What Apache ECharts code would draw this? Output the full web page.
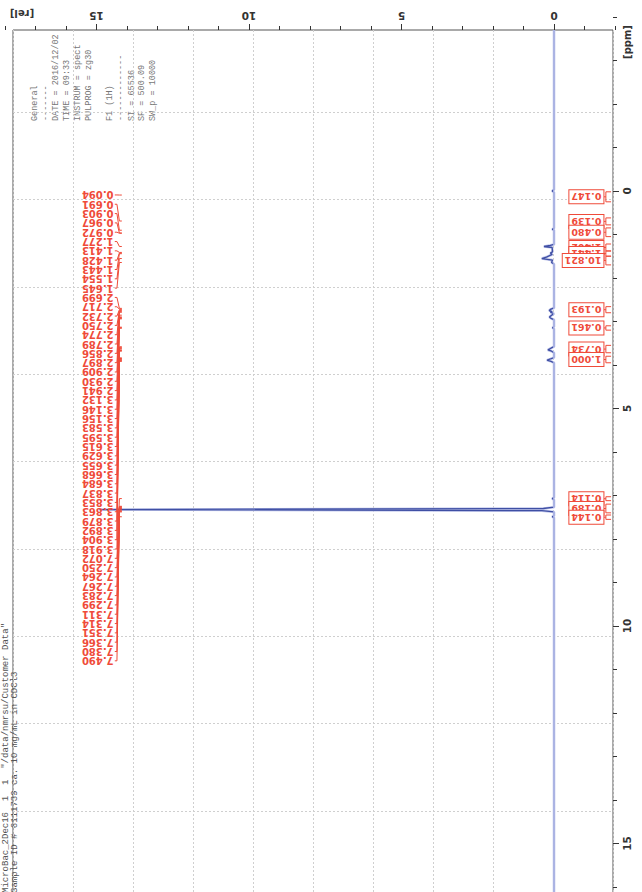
<!DOCTYPE html>
<html><head><meta charset="utf-8">
<script src="https://cdn.jsdelivr.net/npm/echarts@6/dist/echarts.min.js"></script>
<style>
html,body{margin:0;padding:0;width:642px;height:892px;overflow:hidden;background:#fff}
#c{position:absolute;left:-80px;top:-60px;width:800px;height:1140px}
</style>
</head><body><div id="c"></div>
<script>
// ---------- data ----------
const spectrumPpm = [-3.70, -0.03, 0.00, 0.03, 0.86, 0.88, 0.90, 1.23, 1.25, 1.277, 1.30, 1.40, 1.428, 1.46, 1.52, 1.554, 1.59, 1.645, 1.68, 2.69, 2.717, 2.75, 2.774, 2.789, 2.82, 2.856, 2.897, 2.93, 2.96, 3.12, 3.146, 3.17, 3.58, 3.615, 3.655, 3.684, 3.72, 3.83, 3.863, 3.892, 3.918, 3.95, 7.05, 7.072, 7.10, 7.27, 7.30, 7.325, 7.35, 7.38, 7.47, 7.49, 7.51, 17.45];
const spectrumRel = [0, 0, 0.06, 0, 0, 0.06, 0, 0, 0.12, 0.33, 0.06, 0.05, 0.12, 0.06, 0.25, 0.40, 0.05, 0.08, 0, 0, 0.10, 0.16, 0.06, 0.12, 0, 0.08, 0.15, 0.10, 0, 0, 0.05, 0, 0, 0.10, 0.20, 0.08, 0, 0, 0.12, 0.23, 0.10, 0, 0, 0.06, 0, 0, 0.35, 14.90, 0.40, 0, 0, 0.06, 0, 0];
const peakShifts = [0.094, 0.691, 0.903, 0.967, 0.972, 1.277, 1.413, 1.428, 1.443, 1.554, 1.645, 2.699, 2.717, 2.732, 2.750, 2.774, 2.789, 2.856, 2.897, 2.909, 2.930, 2.941, 3.132, 3.146, 3.156, 3.583, 3.595, 3.615, 3.629, 3.655, 3.668, 3.684, 3.837, 3.853, 3.863, 3.879, 3.892, 3.904, 3.918, 7.072, 7.250, 7.264, 7.267, 7.283, 7.299, 7.311, 7.314, 7.351, 7.366, 7.380, 7.490];
const integralStart = [0.02, 0.62, 0.85, 1.22, 1.38, 1.50, 2.66, 3.10, 3.55, 3.80, 7.03, 7.20, 7.45];
const integralEnd   = [0.25, 0.78, 1.05, 1.38, 1.50, 1.70, 2.80, 3.20, 3.72, 3.95, 7.12, 7.40, 7.55];
const integralValue = [0.147, 0.139, 0.480, 1.402, 1.441, 10.821, 0.193, 0.461, 0.734, 1.000, 0.114, 0.189, 0.144];
const relTickLabels = [0, 5, 10, 15];
const ppmTickLabels = [0, 5, 10, 15];
const paramLines = ['General', '-------', 'DATE = 2016/12/02', 'TIME = 09:33', 'INSTRUM = spect', 'PULPROG = zg30', '', 'F1 (1H)', '-------------', 'SI = 65536', 'SF = 500.09', 'SW_p = 10000'];
const footerLines = ['MicroBac_2Dec16  1  1  "/data/nmrsu/Customer Data"', 'Sample ID # 6111739 ca. 10 mg/mL in CDCl3'];

// ---------- layout ----------
const OX = 80, OY = 60, W = 800, H = 1140;
const A_LEFT = 13 + OX, A_TOP = 30 + OY, A_W = 600, A_H = 920;
const REL_MIN = -1.934, REL_MAX = 17.738;
const PPM_MIN = -3.70, PPM_MAX = 17.45;
const kx = A_W / (REL_MAX - REL_MIN);
const ky = A_H / (PPM_MAX - PPM_MIN);
const B_TOP = A_TOP + (-5 - PPM_MIN) * ky, B_H = 25 * ky;
const C_LEFT = A_LEFT + (REL_MAX - 20) * kx, C_W = 25 * kx;
const D_TOP = 112 + OY, D_H = 9 * 87.375;

const RED = '#ef4b3a';
const LABEL_REL = 14.44, LEAD = [14.40, 14.33, 14.25, 14.17];
const LABEL_START = 0.092, LABEL_STEP = 0.2142;
const INT_TEXT_REL = -1.62, INT_BR_IN = -1.70, INT_BR_OUT = -1.87;

const axisFont = {fontFamily: 'DejaVu Sans', fontWeight: 'bold', fontSize: 10.5, color: '#333'};
const hiddenAxis = (gi) => ({gridIndex: gi, type: 'value', min: 1, max: 2, show: false, axisLine: {onZero: false}});
const dashed = {show: true, lineStyle: {color: '#cfcfcf', type: [2, 2], width: 1}};

function renderPeak(params, api) {
  const ppm = api.value(0), i = api.value(1);
  const lp = LABEL_START + i * LABEL_STEP;
  const a = api.coord([LABEL_REL, lp]);
  const pts = [api.coord([LEAD[0], lp]), api.coord([LEAD[1], lp]), api.coord([LEAD[2], ppm]), api.coord([LEAD[3], ppm])];
  return {type: 'group', children: [
    {type: 'polyline', shape: {points: pts}, style: {stroke: RED, fill: 'none', lineWidth: 1}},
    {type: 'text', x: a[0], y: a[1], rotation: Math.PI,
     style: {text: ppm.toFixed(3), fill: RED, font: 'bold 10px "DejaVu Sans"', align: 'left', verticalAlign: 'middle'}}
  ]};
}
function renderIntegral(params, api) {
  const s = api.value(0), e = api.value(1), v = api.value(2);
  const c = (s + e) / 2;
  const a = api.coord([INT_TEXT_REL, c]);
  const k1 = api.coord([INT_BR_IN, c]);
  const s0 = api.coord([INT_BR_OUT, s]), s1 = api.coord([INT_BR_IN, s]);
  const e0 = api.coord([INT_BR_OUT, e]), e1 = api.coord([INT_BR_IN, e]);
  return {type: 'group', children: [
    {type: 'polyline', shape: {points: [s0, s1, e1, e0]}, style: {stroke: RED, fill: 'none', lineWidth: 1}},
    {type: 'line', shape: {x1: a[0], y1: a[1], x2: k1[0], y2: k1[1]}, style: {stroke: RED, lineWidth: 1}},
    {type: 'text', x: a[0], y: a[1], rotation: Math.PI,
     style: {text: v.toFixed(3), fill: RED, font: 'bold 9.5px "DejaVu Sans"', align: 'left', verticalAlign: 'middle',
             backgroundColor: '#fff', borderColor: RED, borderWidth: 1, padding: [2, 2, 1, 2]}}
  ]};
}

const spectrum = spectrumPpm.map((p, i) => [spectrumRel[i], p]);
// peaks dark, baseline light: horizontal gradient over the line's own bounding box
const peakGradient = new echarts.graphic.LinearGradient(0, 0, 1, 0, [
  {offset: 0, color: '#3f4fa4'}, {offset: 0.9972, color: '#3f4fa4'},
  {offset: 0.9988, color: '#9ea8de'}, {offset: 1, color: '#9ea8de'}
]);

const option = {
  animation: false,
  backgroundColor: '#fff',
  grid: [
    {left: A_LEFT, top: A_TOP, width: A_W, height: A_H, show: true, borderColor: '#555', borderWidth: 1, containLabel: false, outerBoundsMode: 'none'},
    {left: A_LEFT, top: B_TOP, width: A_W, height: B_H, containLabel: false, outerBoundsMode: 'none'},
    {left: C_LEFT, top: A_TOP, width: C_W, height: A_H, containLabel: false, outerBoundsMode: 'none'},
    {left: A_LEFT, top: D_TOP, width: A_W, height: D_H, containLabel: false, outerBoundsMode: 'none'}
  ],
  xAxis: [
    {gridIndex: 0, type: 'value', position: 'top', inverse: true, min: REL_MIN, max: REL_MAX,
     axisLine: {show: false, onZero: false}, axisTick: {show: false}, axisLabel: {show: false}, splitLine: {show: false}},
    {gridIndex: 0, type: 'value', position: 'bottom', min: 0, max: 10, interval: 1,
     axisLine: {show: false, onZero: false}, axisTick: {show: false}, axisLabel: {show: false}, splitLine: dashed},
    hiddenAxis(1),
    {gridIndex: 2, type: 'value', position: 'top', inverse: true, min: -5, max: 20, interval: 5,
     axisLine: {show: false, onZero: false},
     axisTick: {show: true, length: 6, lineStyle: {color: '#333'}},
     minorTick: {show: true, splitNumber: 5, length: 4, lineStyle: {color: '#333'}},
     axisLabel: Object.assign({show: true, rotate: 180, margin: 9, formatter: v => relTickLabels.includes(v) ? String(v) : ''}, axisFont),
     splitLine: {show: false}, minorSplitLine: {show: false}},
    hiddenAxis(3)
  ],
  yAxis: [
    {gridIndex: 0, type: 'value', inverse: true, min: PPM_MIN, max: PPM_MAX,
     axisLine: {show: false, onZero: false}, axisTick: {show: false}, axisLabel: {show: false}, splitLine: {show: false}},
    {gridIndex: 1, type: 'value', position: 'right', inverse: true, min: -5, max: 20, interval: 5,
     axisLine: {show: false, onZero: false},
     axisTick: {show: true, length: 6, lineStyle: {color: '#333'}},
     minorTick: {show: true, splitNumber: 5, length: 4, lineStyle: {color: '#333'}},
     axisLabel: Object.assign({show: true, rotate: 90, margin: 8, formatter: v => ppmTickLabels.includes(v) ? String(v) : ''}, axisFont),
     splitLine: {show: false}, minorSplitLine: {show: false}},
    hiddenAxis(2),
    {gridIndex: 3, type: 'value', inverse: true, min: 0, max: 9, interval: 1,
     axisLine: {show: false, onZero: false}, axisTick: {show: false}, axisLabel: {show: false}, splitLine: dashed}
  ],
  series: [
    {type: 'line', xAxisIndex: 0, yAxisIndex: 0, data: spectrum, showSymbol: false, symbol: 'none', silent: true, z: 2,
     lineStyle: {color: '#c3c9ec', width: 2.6}},
    {type: 'line', xAxisIndex: 0, yAxisIndex: 0, data: spectrum, showSymbol: false, symbol: 'none', silent: true, z: 3,
     lineStyle: {color: peakGradient, width: 1.3}},
    {type: 'custom', xAxisIndex: 0, yAxisIndex: 0, silent: true, z: 4,
     data: peakShifts.map((v, i) => [v, i]), renderItem: renderPeak},
    {type: 'custom', xAxisIndex: 0, yAxisIndex: 0, silent: true, z: 4,
     data: integralValue.map((v, i) => [integralStart[i], integralEnd[i], v]), renderItem: renderIntegral}
  ],
  graphic: {elements: [
    {type: 'text', silent: true, x: 29.6 + OX, y: 121 + OY, rotation: Math.PI / 2,
     style: {text: paramLines.join('\n'), font: '8.5px "Liberation Mono"', fill: '#777', align: 'left', verticalAlign: 'top', textAlign: 'left', textVerticalAlign: 'top', lineHeight: 10.73}},
    {type: 'text', silent: true, x: 1.5 + OX, y: 893 + OY, rotation: Math.PI / 2,
     style: {text: footerLines.join('\n'), font: '9px "Liberation Mono"', fill: '#555', align: 'left', verticalAlign: 'top', textAlign: 'left', textVerticalAlign: 'top', lineHeight: 9}},
    {type: 'text', silent: true, x: 22 + OX, y: 13 + OY, rotation: Math.PI,
     style: {text: '[rel]', font: 'bold 10px "DejaVu Sans"', fill: '#333', align: 'center', verticalAlign: 'middle', textAlign: 'center', textVerticalAlign: 'middle'}},
    {type: 'text', silent: true, x: 627 + OX, y: 42 + OY, rotation: Math.PI / 2,
     style: {text: '[ppm]', font: 'bold 10px "DejaVu Sans"', fill: '#333', align: 'center', verticalAlign: 'middle', textAlign: 'center', textVerticalAlign: 'middle'}}
  ]}
};
const chart = echarts.init(document.getElementById('c'), null, {renderer: 'svg', width: W, height: H});
chart.setOption(option);
</script></body></html>
